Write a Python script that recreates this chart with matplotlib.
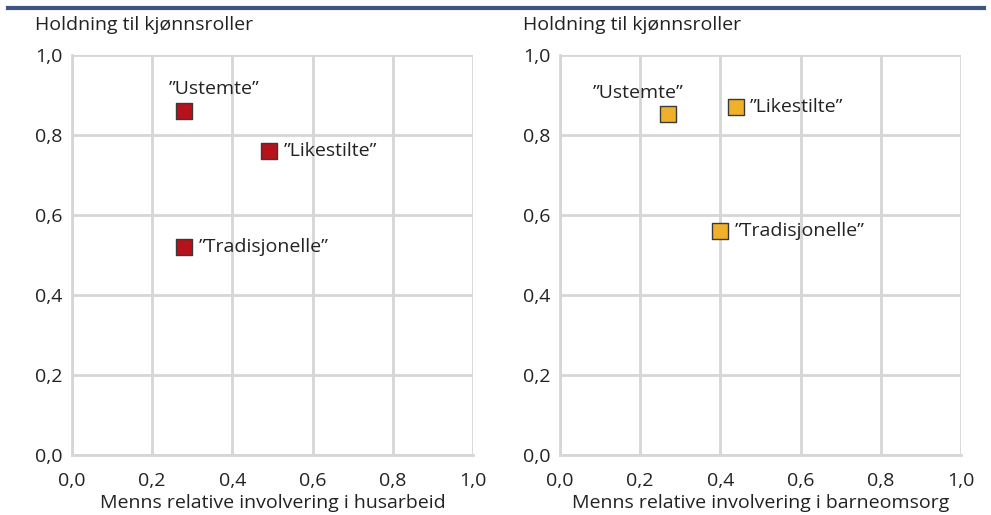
import matplotlib
matplotlib.use('Agg')
import matplotlib.pyplot as plt
from matplotlib.lines import Line2D

plt.rcParams['font.family'] = ['Open Sans', 'DejaVu Sans']

# data
labels = ['\u201dUstemte\u201d', '\u201dLikestilte\u201d', '\u201dTradisjonelle\u201d']
husarbeid_x = [0.28, 0.49, 0.28]
husarbeid_y = [0.86, 0.76, 0.52]
barneomsorg_x = [0.27, 0.44, 0.40]
barneomsorg_y = [0.853, 0.87, 0.56]
ticks = [0.0, 0.2, 0.4, 0.6, 0.8, 1.0]
tick_labels = ['0,0', '0,2', '0,4', '0,6', '0,8', '1,0']

ylabel = 'Holdning til kjønnsroller'
xlabels = ['Menns relative involvering i husarbeid',
           'Menns relative involvering i barneomsorg']

grid_col = '#d6d6d6'
text_col = '#222222'
fs = 14

fig = plt.figure(figsize=(9.91, 5.15), dpi=100)

# label offsets in pixels (dx, dy, ha)
offs_left = [(30, 22, 'center'), (15, 0, 'left'), (14, 0, 'left')]
offs_right = [(-30, 21, 'center'), (13, 0, 'left'), (14, 0, 'left')]

panels = [
    (0.0727, husarbeid_x, husarbeid_y, '#b5121b', offs_left, xlabels[0]),
    (0.5651, barneomsorg_x, barneomsorg_y, '#f0b12a', offs_right, xlabels[1]),
]

for left, xs, ys, col, offs, xl in panels:
    ax = fig.add_axes([left, 0.1165, 0.4046, 0.7767])
    ax.set_xlim(0, 1)
    ax.set_ylim(0, 1)
    ax.set_xticks(ticks)
    ax.set_yticks(ticks)
    ax.set_xticklabels(tick_labels)
    ax.set_yticklabels(tick_labels)
    ax.tick_params(length=0, labelsize=fs, colors=text_col)
    ax.tick_params(axis='x', pad=12)
    ax.tick_params(axis='y', pad=7)
    ax.grid(True, color=grid_col, linewidth=2)
    for s in ax.spines.values():
        s.set_visible(False)
    ax.spines['left'].set_visible(True)
    ax.spines['bottom'].set_visible(True)
    ax.spines['left'].set_color(grid_col)
    ax.spines['bottom'].set_color(grid_col)
    ax.spines['left'].set_linewidth(2)
    ax.spines['bottom'].set_linewidth(2)
    ax.set_axisbelow(True)
    ax.scatter(xs, ys, marker='s', s=128, color=col, edgecolor='#3a3a3a',
               linewidth=1, zorder=3, clip_on=False)
    for x, y, lab, (dx, dy, ha) in zip(xs, ys, labels, offs):
        ax.annotate(lab, (x, y), xytext=(dx, dy), textcoords='offset pixels',
                    ha=ha, va='center', fontsize=fs, color=text_col)
    ax.set_xlabel(xl, fontsize=fs, color=text_col, labelpad=3)
    fig.text(left - 0.0373, 0.951, ylabel, fontsize=fs, color=text_col,
             ha='left', va='center')

# blue rule at the top
fig.add_artist(Line2D([0.008, 0.993], [0.984, 0.984], color='#3d5580',
                      linewidth=3, transform=fig.transFigure))

fig.savefig('out.png', dpi=100)
